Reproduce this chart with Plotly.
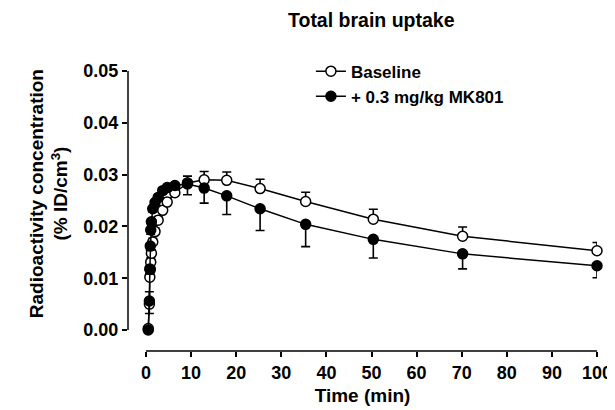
import plotly.graph_objects as go

# ---- data ----
time_min = [0.5, 0.75, 0.85, 0.95, 1.05, 1.2, 1.5, 2.0, 2.7, 3.7, 4.7, 6.4,
            9.2, 12.9, 17.9, 25.3, 35.4, 50.4, 70.2, 100.0]
baseline = [0.0003, 0.0050, 0.0102, 0.0117, 0.0131, 0.0148, 0.0170, 0.0190,
            0.0212, 0.0231, 0.0247, 0.0265, 0.0284, 0.0290, 0.0289, 0.0273,
            0.0248, 0.0214, 0.0181, 0.0153]
baseline_err = [0.0003, 0.0024, 0.0008, 0.0008, 0.0008, 0.0007, 0.0007, 0.0007,
                0.0007, 0.0007, 0.0008, 0.0009, 0.0013, 0.0016, 0.0016, 0.0018,
                0.0018, 0.0019, 0.0018, 0.0016]
mk801 = [0.0000, 0.0056, 0.0118, 0.0162, 0.0193, 0.0209, 0.0234, 0.0246,
         0.0256, 0.0269, 0.0275, 0.0279, 0.0282, 0.0274, 0.0259, 0.0234,
         0.0204, 0.0175, 0.0147, 0.0124]
mk801_err = [0.0003, 0.0024, 0.0010, 0.0008, 0.0008, 0.0007, 0.0006, 0.0006,
             0.0006, 0.0006, 0.0007, 0.0008, 0.0021, 0.0029, 0.0036, 0.0042,
             0.0043, 0.0036, 0.0029, 0.0023]

x_ticks = [0, 10, 20, 30, 40, 50, 60, 70, 80, 90, 100]
y_ticks = [0.00, 0.01, 0.02, 0.03, 0.04, 0.05]

FONT = "Arial, 'Liberation Sans', sans-serif"
FS = 18
zeros = [0] * len(time_min)

fig = go.Figure()
fig.add_trace(go.Scatter(
    x=time_min, y=baseline, name="Baseline", mode="lines+markers",
    line=dict(color="black", width=1.5),
    marker=dict(symbol="circle", size=10, color="white",
                line=dict(color="black", width=1.5)),
    error_y=dict(type="data", symmetric=False, array=baseline_err,
                 arrayminus=zeros, color="black", thickness=1.6, width=4.5),
    cliponaxis=False,
))
fig.add_trace(go.Scatter(
    x=time_min, y=mk801, name="+ 0.3 mg/kg MK801", mode="lines+markers",
    line=dict(color="black", width=1.5),
    marker=dict(symbol="circle", size=10, color="black",
                line=dict(color="black", width=1.5)),
    error_y=dict(type="data", symmetric=False, array=zeros,
                 arrayminus=mk801_err, color="black", thickness=1.6, width=4.5),
    cliponaxis=False,
))

# offset axis lines (Prism style)
fig.add_shape(type="line", xref="x", yref="paper", x0=0, x1=100, y0=0, y1=0,
              line=dict(color="black", width=1.5))
fig.add_shape(type="line", xref="paper", yref="y", x0=0, x1=0, y0=0, y1=0.05,
              line=dict(color="black", width=1.5))

# the page body adds an 8px margin, so the figure is 8px smaller each way
fig.update_layout(
    width=607, height=402,
    margin=dict(l=120, r=18, t=63, b=59, autoexpand=False),
    paper_bgcolor="white", plot_bgcolor="white",
    font=dict(family=FONT, color="black", size=FS, weight="bold"),
    showlegend=True,
    legend=dict(x=0.39, y=1.062, xanchor="left", yanchor="top",
                bgcolor="rgba(0,0,0,0)", itemwidth=30, tracegroupgap=0,
                font=dict(family=FONT, size=17, color="black",
                          weight="bold")),
    annotations=[
        dict(text="Total brain uptake", xref="paper", yref="paper",
             x=0.52, y=1.0, yshift=51, xanchor="center", yanchor="middle",
             showarrow=False,
             font=dict(family=FONT, size=19.5, color="black",
                       weight="bold")),
        dict(text="Radioactivity concentration<br>(% ID/cm<sup>3</sup>)",
             xref="paper", yref="paper", x=0, xshift=-79, y=0.56,
             yanchor="middle", xanchor="center", textangle=-90,
             showarrow=False,
             font=dict(family=FONT, size=19, color="black", weight="bold")),
    ],
)
fig.update_xaxes(
    range=[-3.99, 100], tickvals=x_ticks, ticks="outside", ticklen=5,
    tickwidth=1.5, tickcolor="black", showline=False, showgrid=False,
    zeroline=False, automargin=False,
    tickfont=dict(family=FONT, size=FS, color="black", weight="bold"),
    title=dict(text="Time (min)", standoff=7,
               font=dict(family=FONT, size=19, color="black", weight="bold")),
)
fig.update_yaxes(
    range=[-0.00405, 0.05], tickvals=y_ticks, tickformat=".2f",
    ticks="outside", ticklen=5, tickwidth=1.5, tickcolor="black",
    showline=False, showgrid=False, zeroline=False, automargin=False,
    tickfont=dict(family=FONT, size=FS, color="black", weight="bold"),
)

fig.write_html("out.html")
